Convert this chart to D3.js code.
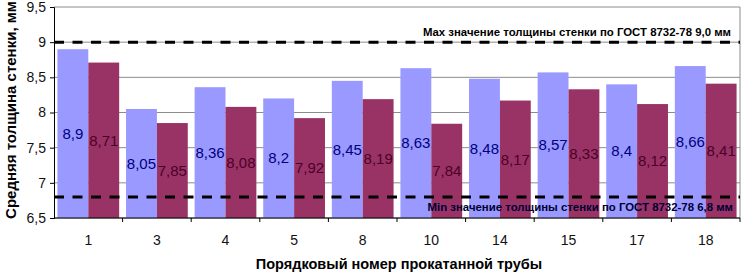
<!DOCTYPE html>
<html>
<head>
<meta charset="utf-8">
<script src="https://cdn.jsdelivr.net/npm/d3@7"></script>
<style>
  body { margin: 0; background: #fff; }
  svg { display: block; font-family: "Liberation Sans", Arial, sans-serif; }
</style>
</head>
<body>
<svg id="chart"></svg>
<script>
// данные
const tubes = ["1", "3", "4", "5", "8", "10", "14", "15", "17", "18"];
const seriesA = [8.9, 8.05, 8.36, 8.2, 8.45, 8.63, 8.48, 8.57, 8.4, 8.66];
const seriesB = [8.71, 7.85, 8.08, 7.92, 8.19, 7.84, 8.17, 8.33, 8.12, 8.41];
const yTicks = [6.5, 7, 7.5, 8, 8.5, 9, 9.5];
const maxLimit = 9.0;
const minLimit = 6.8;
const maxText = "Max значение толщины стенки по ГОСТ 8732-78 9,0 мм";
const minText = "Min значение толщины стенки по ГОСТ 8732-78 6,8 мм";

const width = 743, height = 273;
const margin = {top: 7, right: 3, bottom: 55, left: 54};
const innerW = width - margin.left - margin.right;
const innerH = height - margin.top - margin.bottom;

const svg = d3.select("#chart")
    .attr("width", width)
    .attr("height", height);

const chart = svg.append("g")
    .attr("transform", `translate(${margin.left}, ${margin.top})`);

const xscale = d3.scaleBand()
    .domain(tubes)
    .range([0, innerW])
    .paddingInner(0.1)
    .paddingOuter(0.05);

const xband = d3.scaleBand()
    .domain([0, 1])
    .range([0, xscale.bandwidth()]);

const yscale = d3.scaleLinear()
    .domain([6.5, 9.5])
    .range([innerH, 0]);

const fmt = v => String(v).replace(".", ",");

// сетка
chart.append("g")
    .selectAll("line")
    .data(yTicks)
    .join("line")
    .attr("x1", 0)
    .attr("x2", innerW)
    .attr("y1", d => yscale(d))
    .attr("y2", d => yscale(d))
    .attr("stroke", "#8c8c8c")
    .attr("stroke-width", 1);

// рамка справа
chart.append("line")
    .attr("x1", innerW).attr("x2", innerW)
    .attr("y1", 0).attr("y2", innerH)
    .attr("stroke", "#8c8c8c");

const rows = tubes.map((t, i) => ({tube: t, a: seriesA[i], b: seriesB[i]}));

const groups = chart.append("g")
    .selectAll("g")
    .data(rows)
    .join("g")
    .attr("transform", d => `translate(${xscale(d.tube)},0)`);

const colors = ["#9999ff", "#993366"];
const labelColors = ["#000080", "#4d0026"];

[0, 1].forEach(k => {
    const key = k === 0 ? "a" : "b";
    groups.append("rect")
        .attr("x", xband(k))
        .attr("width", xband.bandwidth())
        .attr("y", d => yscale(d[key]))
        .attr("height", d => innerH - yscale(d[key]))
        .attr("fill", colors[k]);
});

// оси
const yaxis = d3.axisLeft(yscale)
    .tickValues(yTicks)
    .tickFormat(fmt)
    .tickSize(4)
    .tickPadding(4);

chart.append("g")
    .call(yaxis)
    .call(g => g.select(".domain").attr("stroke", "#000"))
    .call(g => g.selectAll("text").attr("font-size", 14).attr("fill", "#111"));

const xaxis_group = chart.append("g")
    .attr("transform", `translate(0, ${innerH})`);

xaxis_group.append("line")
    .attr("x1", 0).attr("x2", innerW)
    .attr("stroke", "#000");

xaxis_group.selectAll(".tk")
    .data(tubes)
    .join("line")
    .attr("class", "tk")
    .attr("x1", d => xscale(d) + xscale.bandwidth() + xscale.step() * xscale.paddingInner() / 2)
    .attr("x2", d => xscale(d) + xscale.bandwidth() + xscale.step() * xscale.paddingInner() / 2)
    .attr("y1", 0).attr("y2", 4)
    .attr("stroke", "#000");

xaxis_group.selectAll("text")
    .data(tubes)
    .join("text")
    .attr("x", d => xscale(d) + xscale.bandwidth() / 2)
    .attr("y", 27)
    .attr("text-anchor", "middle")
    .attr("font-size", 14)
    .attr("fill", "#111")
    .text(d => d);

// пределы ГОСТ
[maxLimit, minLimit].forEach(v => {
    chart.append("line")
        .attr("x1", 0).attr("x2", innerW)
        .attr("y1", yscale(v)).attr("y2", yscale(v))
        .attr("stroke", "#000")
        .attr("stroke-width", 3)
        .attr("stroke-dasharray", "10,8.5");
});

// подписи значений
[0, 1].forEach(k => {
    const key = k === 0 ? "a" : "b";
    groups.append("text")
        .attr("x", xband(k) + xband.bandwidth() / 2)
        .attr("y", d => (yscale(d[key]) + innerH) / 2)
        .attr("dy", "0.35em")
        .attr("text-anchor", "middle")
        .attr("font-size", 15)
        .attr("fill", labelColors[k])
        .text(d => fmt(d[key]));
});

chart.append("text")
    .attr("x", innerW - 9)
    .attr("y", yscale(maxLimit) - 6)
    .attr("text-anchor", "end")
    .attr("font-size", 11.4)
    .attr("font-weight", "bold")
    .attr("fill", "#000")
    .text(maxText);

chart.append("text")
    .attr("x", innerW - 7)
    .attr("y", yscale(minLimit) + 14)
    .attr("text-anchor", "end")
    .attr("font-size", 11.4)
    .attr("font-weight", "bold")
    .attr("fill", "#000033")
    .text(minText);

// заголовки осей
svg.append("text")
    .attr("transform", `translate(16, 110) rotate(-90)`)
    .attr("text-anchor", "middle")
    .attr("font-size", 15)
    .attr("font-weight", "bold")
    .text("Средняя толщина стенки, мм");

svg.append("text")
    .attr("x", margin.left + innerW / 2 + 2)
    .attr("y", 269)
    .attr("text-anchor", "middle")
    .attr("font-size", 14.5)
    .attr("font-weight", "bold")
    .text("Порядковый номер прокатанной трубы");
</script>
</body>
</html>
